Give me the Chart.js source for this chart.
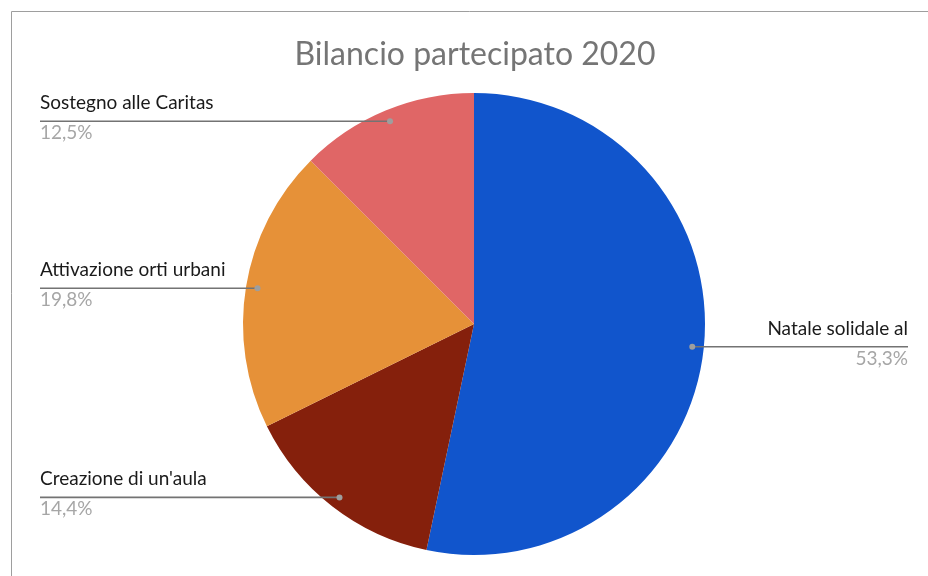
<!DOCTYPE html>
<html>
<head>
<meta charset="utf-8">
<script src="https://cdn.jsdelivr.net/npm/chart.js@4"></script>
<style>
  html, body { margin: 0; padding: 0; background: #fff; }
  #wrap { width: 928px; height: 576px; position: relative; }
</style>
</head>
<body>
<div id="wrap"><canvas id="pieChart"></canvas></div>
<script>
/* ================================================
   DATA
================================================ */
const chartTitle = 'Bilancio partecipato 2020';
const categories = ['Natale solidale al', "Creazione di un'aula", 'Attivazione orti urbani', 'Sostegno alle Caritas'];
const shares     = [53.3, 14.4, 19.8, 12.5];
const sliceColors = ['#1155cc', '#85200c', '#e69138', '#e06666'];

const FONT = 'Lato, "Open Sans", sans-serif';

/* frame + title + leader labels */
const sheetLabels = {
  id: 'sheetLabels',
  beforeDraw(chart) {
    const { ctx } = chart;
    ctx.save();
    ctx.strokeStyle = '#9e9e9e';
    ctx.lineWidth = 1;
    ctx.beginPath();
    ctx.moveTo(11.5, chart.height);
    ctx.lineTo(11.5, 11.5);
    ctx.lineTo(chart.width, 11.5);
    ctx.stroke();

    ctx.fillStyle = '#757575';
    ctx.font = '32px ' + FONT;
    ctx.textAlign = 'center';
    ctx.textBaseline = 'alphabetic';
    ctx.fillText(chartTitle, 475, 65);
    ctx.restore();
  },
  afterDatasetsDraw(chart) {
    const { ctx } = chart;
    const meta = chart.getDatasetMeta(0);
    const data = chart.data.datasets[0].data;
    const total = data.reduce((s, v) => s + v, 0);
    ctx.save();
    meta.data.forEach((arc, i) => {
      const p = arc.getProps(['x', 'y', 'startAngle', 'endAngle', 'outerRadius'], true);
      const mid = (p.startAngle + p.endAngle) / 2;
      const dx = p.x + Math.cos(mid) * p.outerRadius * 0.95;
      const dy = p.y + Math.sin(mid) * p.outerRadius * 0.95;
      const right = dx > p.x;
      const edge = right ? 908 : 40;

      ctx.strokeStyle = '#737373';
      ctx.lineWidth = 1.6;
      ctx.beginPath();
      ctx.moveTo(dx, dy);
      ctx.lineTo(edge, dy);
      ctx.stroke();

      ctx.fillStyle = '#9e9e9e';
      ctx.beginPath();
      ctx.arc(dx, dy, 3, 0, Math.PI * 2);
      ctx.fill();

      ctx.textAlign = right ? 'right' : 'left';
      ctx.textBaseline = 'alphabetic';
      ctx.font = '19px ' + FONT;
      ctx.fillStyle = '#1a1a1a';
      ctx.fillText(chart.data.labels[i], edge, dy - 12);
      ctx.fillStyle = '#a6a6a6';
      const pct = (data[i] / total * 100).toFixed(1).replace('.', ',') + '%';
      ctx.fillText(pct, edge, dy + 18);
    });
    ctx.restore();
  }
};

new Chart(document.getElementById('pieChart'), {
  type: 'pie',
  data: {
    labels: categories,
    datasets: [{
      data: shares,
      backgroundColor: sliceColors,
      borderWidth: 0,
    }],
  },
  options: {
    responsive: true,
    maintainAspectRatio: false,
    animation: false,
    layout: { padding: { top: 93, bottom: 21, left: 243, right: 223 } },
    plugins: {
      legend: { display: false },
      tooltip: { enabled: false },
      title: { display: false },
    },
  },
  plugins: [sheetLabels],
});
</script>
</body>
</html>
